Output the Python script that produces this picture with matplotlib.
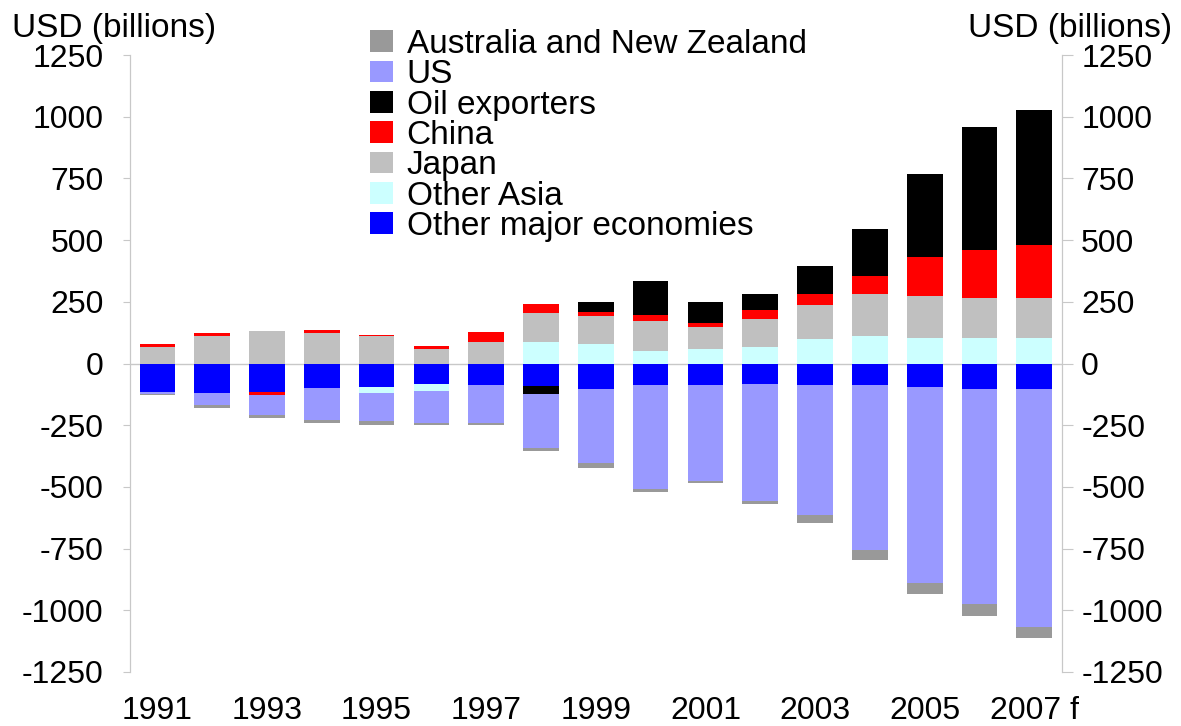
import numpy as np
import matplotlib.pyplot as plt

plt.rcParams["font.family"] = ["Liberation Sans", "DejaVu Sans"]
plt.rcParams["axes.unicode_minus"] = False

years = ["1991", "", "1993", "", "1995", "", "1997", "", "1999", "",
         "2001", "", "2003", "", "2005", "", "2007 f"]

# USD billions
other_major = [-115, -120, -114, -100, -96, -84, -87, -92, -105, -88, -88, -84, -88, -88, -97, -105, -105]
other_asia = [0, 0, 0, 0, -22, -26, 0, 89, 78, 52, 59, 68, 99, 112, 103, 103, 103]
japan = [66, 110, 131, 123, 113, 58, 89, 116, 114, 119, 88, 114, 137, 169, 171, 164, 161]
china = [15, 12, -12, 12, 3, 14, 38, 35, 18, 24, 17, 34, 45, 75, 158, 192, 215]
oil = [0, 0, 0, 0, 0, 0, 0, -33, 39, 140, 85, 65, 116, 189, 335, 498, 548]
us = [-8, -50, -83, -127, -116, -131, -154, -216, -300, -419, -390, -474, -527, -669, -791, -868, -962]
anz = [-5, -10, -10, -13, -16, -9, -9, -13, -20, -13, -6, -11, -30, -38, -48, -50, -45]

series = [
    ("Other major economies", other_major, "#0000ff"),
    ("Other Asia", other_asia, "#ccffff"),
    ("Japan", japan, "#c0c0c0"),
    ("China", china, "#ff0000"),
    ("Oil exporters", oil, "#000000"),
    ("US", us, "#9999ff"),
    ("Australia and New Zealand", anz, "#999999"),
]

fig = plt.figure(figsize=(11.81, 7.26), dpi=100)
ax = fig.add_axes([0.110, 0.0744, 0.789, 0.8498])

x = np.arange(len(years))
pos = np.zeros(len(years))
neg = np.zeros(len(years))
for name, vals, c in series:
    v = np.array(vals, dtype=float)
    bottom = np.where(v >= 0, pos, neg)
    ax.bar(x, v, bottom=bottom, width=0.65, color=c, label=name, lw=0, zorder=2)
    pos += np.clip(v, 0, None)
    neg += np.clip(v, None, 0)

ax.axhline(0, color="#c8c8c8", lw=1, zorder=1)

ax.set_xlim(-0.5, len(years) - 0.5)
ax.set_ylim(-1250, 1250)
yt = np.arange(-1250, 1251, 250)
ax.set_yticks(yt)
ax.set_xticks(x)
ax.set_xticklabels(years)
ax.tick_params(axis="x", length=0, pad=17, labelsize=23)
ax.tick_params(axis="y", length=5, color="#c8c8c8", pad=14, labelsize=23)

ax2 = ax.twinx()
ax2.set_ylim(-1250, 1250)
ax2.set_yticks(yt)
ax2.tick_params(axis="y", length=8, color="#c8c8c8", pad=6, labelsize=23)

for a in (ax, ax2):
    for s in ("top", "bottom"):
        a.spines[s].set_visible(False)
    a.spines["left"].set_color("#c8c8c8")
    a.spines["right"].set_color("#c8c8c8")

fig.text(12 / 1181, 1 - 28 / 726, "USD (billions)", fontsize=24, ha="left", va="center")
fig.text(1172 / 1181, 1 - 28 / 726, "USD (billions)", fontsize=24, ha="right", va="center")

hs, ls = ax.get_legend_handles_labels()
leg = fig.legend(hs[::-1], ls[::-1], loc="upper left", bbox_to_anchor=(370 / 1181, 1 - 29 / 726),
                 frameon=False, fontsize=24, labelspacing=-0.02, handlelength=0.7,
                 handleheight=0.62, handletextpad=0.4, borderpad=0, borderaxespad=0)

fig.savefig("out.png", dpi=100)
plt.close()
